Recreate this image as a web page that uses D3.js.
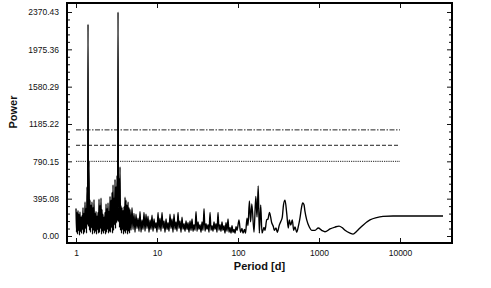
<!DOCTYPE html>
<html>
<head>
<meta charset="utf-8">
<script src="https://cdn.jsdelivr.net/npm/d3@7"></script>
<style>
  body { margin: 0; background: #fff; }
  svg text { font-family: "Liberation Sans", Arial, sans-serif; fill: #111; }
  .tick text { font-size: 8.5px; }
  .axis-title { font-size: 11px; font-weight: bold; }
</style>
</head>
<body>
<svg id="chart" width="491" height="288"></svg>
<script>
// periodogram, [period in days, power]
// short periods: the dense forest between 1 and ~4.6 d
const shortPeriods = [
  [1.000,290],[1.014,40],[1.029,250],[1.044,20],[1.058,270],[1.073,60],[1.089,230],[1.104,10],[1.120,255],[1.136,50],
  [1.153,200],[1.169,30],[1.186,215],[1.203,70],[1.220,300],[1.237,20],[1.255,240],[1.273,40],[1.292,360],[1.310,80],
  [1.329,290],[1.348,30],[1.367,520],[1.387,120],[1.407,2242],[1.427,100],[1.447,790],[1.468,60],[1.489,380],[1.510,40],
  [1.532,330],[1.554,90],[1.576,360],[1.599,20],[1.622,300],[1.645,60],[1.668,385],[1.692,30],[1.717,240],[1.742,50],
  [1.766,260],[1.791,20],[1.817,210],[1.843,70],[1.869,250],[1.896,30],[1.923,390],[1.951,40],[1.979,320],[2.007,80],
  [2.036,400],[2.065,20],[2.095,280],[2.125,50],[2.155,230],[2.186,30],[2.217,200],[2.249,60],[2.281,250],[2.314,20],
  [2.347,340],[2.381,40],[2.415,290],[2.450,70],[2.484,350],[2.520,30],[2.556,260],[2.593,50],[2.630,420],[2.668,40],
  [2.706,380],[2.745,90],[2.784,460],[2.824,30],[2.864,540],[2.905,60],[2.947,400],[2.989,120],[3.032,600],[3.075,80],
  [3.119,520],[3.164,140],[3.209,640],[3.255,160],[3.302,2370.43],[3.349,150],[3.397,610],[3.446,90],[3.495,730],[3.545,60],
  [3.596,320],[3.647,30],[3.699,300],[3.752,70],[3.806,270],[3.861,20],[3.916,310],[3.972,50],[4.029,410],[4.087,30],
  [4.145,380],[4.204,60],[4.265,330],[4.326,20],[4.388,360],[4.451,50],[4.514,300],[4.579,30],[4.645,280]
];

// mid periods: the noisy part up to ~100 d
const midPeriods = [
  [4.776,60],[4.913,300],[5.055,70],[5.201,240],[5.351,40],[5.505,230],[5.664,80],[5.828,190],[5.995,50],[6.168,260],
  [6.346,40],[6.530,170],[6.718,70],[6.911,250],[7.111,50],[7.316,230],[7.527,80],[7.744,210],[7.967,40],[8.197,170],
  [8.433,70],[8.677,220],[8.927,50],[9.184,180],[9.449,80],[9.722,140],[10.00,40],[10.29,250],[10.58,70],[10.89,190],
  [11.20,50],[11.53,250],[11.86,80],[12.20,160],[12.55,40],[12.92,180],[13.29,70],[13.67,140],[14.07,50],[14.47,230],
  [14.89,80],[15.32,180],[15.76,40],[16.22,230],[16.68,70],[17.17,150],[17.66,50],[18.17,250],[18.69,80],[19.23,160],
  [19.79,40],[20.36,200],[20.95,70],[21.55,130],[22.17,50],[22.81,160],[23.47,70],[24.15,140],[24.84,40],[25.56,160],
  [26.30,60],[27.06,180],[27.84,50],[28.64,120],[29.47,60],[30.32,260],[31.19,50],[32.09,150],[33.02,70],[33.97,120],
  [34.95,40],[35.96,150],[36.99,60],[38.06,290],[39.16,50],[40.29,130],[41.45,70],[42.65,120],[43.88,40],[45.14,250],
  [46.45,60],[47.76,110],[49.13,50],[50.55,150],[52.01,70],[53.51,130],[55.05,40],[56.64,250],[58.28,60],[59.95,120],
  [61.68,50],[63.46,150],[65.30,60],[67.18,110],[69.11,30],[71.11,140],[73.16,50],[75.27,180],[77.44,40],[79.67,90],
  [81.97,30],[84.33,110],[86.77,40],[89.27,70],[91.84,30],[94.49,100]
];

// long periods: resolved peaks and the smooth tail
const longPeriods = [
  [97.22,60],[102.9,170],[107.4,40],[112.0,80],[115.3,30],[120.3,70],[123.8,30],[129.1,190],[132.9,110],[138.2,370],
  [143.0,150],[148.1,340],[157.6,40],[165.9,420],[171.7,200],[177.7,530],[183.3,30],[190.6,330],[197.8,30],[209.4,90],
  [215.4,60],[226,170],[234.6,180],[244.8,250],[260.6,140],[272.9,100],[280.5,60],[294.5,85],[305.6,40],[323.4,115],
  [336.5,150],[352.2,200],[364.5,330],[380.5,380],[399.4,240],[417.8,85],[429.8,170],[447.5,115],[468,170],[487,60],
  [505.5,95],[530.6,40],[558.3,110],[582,190],[608,300],[629,350],[653,330],[671,260],[705,170],[759,95],
  [812,60],[893,60],[980,85],[1079,60],[1186,45],[1368,75],[1577,95],[1766,105],[1923,90],[2095,60],
  [2415,30],[2630,20],[2920,50],[3208,85],[3494,115],[4263,170],[5155,195],[6166,207],[8199,212],[17650,212],[33960,212]
];

// false alarm levels (dotted, dashed, dash-dot), drawn from 1 d to 10000 d
const levels = [790.15, 960, 1123];
const levelSpan = [1, 10000];

const yTicks = [0, 395.08, 790.15, 1185.22, 1580.29, 1975.36, 2370.43];
const yTickLabels = ['0.00', '395.08', '790.15', '1185.22', '1580.29', '1975.36', '2370.43'];
const xTicks = [1, 10, 100, 1000, 10000];
const xTickLabels = ['1', '10', '100', '1000', '10000'];

const spectrum = shortPeriods.concat(midPeriods, longPeriods);

const svg = d3.select('#chart');
const plotLeft = 67, plotRight = 452, plotTop = 3, plotBottom = 243;

const x = d3.scaleLog().domain([0.774, 43850]).range([plotLeft, plotRight]);
const y = d3.scaleLinear().domain([-74, 2465.6]).range([plotBottom, plotTop]);

// minor y ticks, 5 steps per labelled step
const yStep = yTicks[1] / 5;
const yMinor = d3.range(0, 31).map(i => i * yStep).filter(v => !yTicks.some(t => Math.abs(t - v) < 1));

svg.append('defs').append('clipPath').attr('id', 'plot-clip')
  .append('rect')
  .attr('x', plotLeft).attr('y', plotTop)
  .attr('width', plotRight - plotLeft).attr('height', plotBottom - plotTop);

// axes, ticks point inward
const axisStyle = g => {
  g.select('.domain').remove();
  g.selectAll('.tick line').attr('stroke', '#111').attr('stroke-width', 1);
};

svg.append('g')
  .attr('transform', `translate(0,${plotBottom})`)
  .call(d3.axisBottom(x).tickValues(xTicks).tickSize(-5).tickPadding(7)
    .tickFormat((d, i) => xTickLabels[i]))
  .call(axisStyle);

svg.append('g')
  .attr('transform', `translate(0,${plotTop})`)
  .call(d3.axisTop(x).tickValues(xTicks).tickSize(-5).tickFormat(''))
  .call(axisStyle);

svg.append('g')
  .attr('transform', `translate(${plotLeft},0)`)
  .call(d3.axisLeft(y).tickValues(yTicks).tickSize(-5).tickPadding(8)
    .tickFormat((d, i) => yTickLabels[i]))
  .call(axisStyle);

svg.append('g')
  .attr('transform', `translate(${plotLeft},0)`)
  .call(d3.axisLeft(y).tickValues(yMinor).tickSize(-3).tickFormat(''))
  .call(axisStyle);

svg.append('g')
  .attr('transform', `translate(${plotRight},0)`)
  .call(d3.axisRight(y).tickValues(yTicks).tickSize(-5).tickFormat(''))
  .call(axisStyle);

svg.append('g')
  .attr('transform', `translate(${plotRight},0)`)
  .call(d3.axisRight(y).tickValues(yMinor).tickSize(-3).tickFormat(''))
  .call(axisStyle);

svg.selectAll('.tick text').attr('fill', '#111');

// significance levels
const dashes = ['1.2,1', '4,2', '5,1.5,1.5,1.5'];
svg.append('g')
  .selectAll('line')
  .data(levels)
  .enter()
    .append('line')
    .attr('x1', x(levelSpan[0]))
    .attr('x2', x(levelSpan[1]))
    .attr('y1', d => y(d))
    .attr('y2', d => y(d))
    .attr('stroke', '#222')
    .attr('stroke-width', 1)
    .attr('stroke-dasharray', (_, i) => dashes[i]);

// the periodogram
const line = d3.line()
  .x(d => x(d[0]))
  .y(d => y(d[1]))
  .curve(d3.curveMonotoneX);

svg.append('path')
  .datum(spectrum)
  .attr('clip-path', 'url(#plot-clip)')
  .attr('fill', 'none')
  .attr('stroke', '#000')
  .attr('stroke-width', 1.35)
  .attr('stroke-linejoin', 'miter')
  .attr('d', line);

// frame
svg.append('rect')
  .attr('x', plotLeft).attr('y', plotTop)
  .attr('width', plotRight - plotLeft).attr('height', plotBottom - plotTop)
  .attr('fill', 'none')
  .attr('stroke', '#000')
  .attr('stroke-width', 2);

// titles
svg.append('text')
  .attr('class', 'axis-title')
  .attr('x', (plotLeft + plotRight) / 2)
  .attr('y', 270)
  .attr('text-anchor', 'middle')
  .text('Period [d]');

svg.append('text')
  .attr('class', 'axis-title')
  .attr('transform', 'translate(17,112) rotate(-90)')
  .attr('text-anchor', 'middle')
  .text('Power');
</script>
</body>
</html>
